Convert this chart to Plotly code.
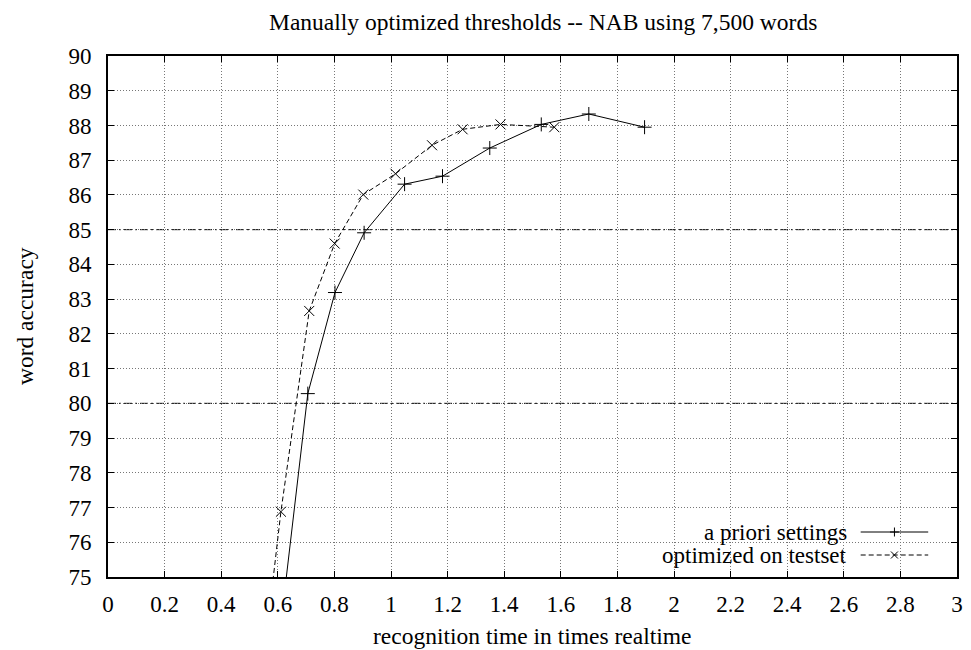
import plotly.graph_objects as go

# Recognition time (x realtime) vs. word accuracy (%)
apriori_time = [0.59, 0.706, 0.802, 0.905, 1.048, 1.182, 1.349, 1.531, 1.699, 1.896]
apriori_acc = [72.2, 80.28, 83.19, 84.91, 86.31, 86.54, 87.35, 88.03, 88.33, 87.95]

optimized_time = [0.55, 0.611, 0.711, 0.801, 0.902, 1.016, 1.145, 1.253, 1.387, 1.577]
optimized_acc = [72.6, 76.88, 82.66, 84.60, 86.01, 86.61, 87.43, 87.89, 88.03, 87.95]

x_ticks = [0, 0.2, 0.4, 0.6, 0.8, 1, 1.2, 1.4, 1.6, 1.8, 2, 2.2, 2.4, 2.6, 2.8, 3]
x_labels = ["0", "0.2", "0.4", "0.6", "0.8", "1", "1.2", "1.4", "1.6", "1.8",
            "2", "2.2", "2.4", "2.6", "2.8", "3"]
y_ticks = list(range(75, 91))
ref_levels = [80, 85]

series_names = ["a priori settings", "optimized on testset"]
title_text = "Manually optimized thresholds -- NAB using 7,500 words"
x_title = "recognition time in times realtime"
y_title = "word accuracy"

W, H = 971, 650
L, R, T, B = 108, 8, 56, 73
PW, PH = W - L - R, H - T - B
FONT = "Liberation Serif, Times New Roman, serif"
TICK_FS = 23
TEXT_FS = 23.5
KEY_FS = 23


def px(xp):
    return (xp - L) / PW


def py(yp):
    return (H - B - yp) / PH


fig = go.Figure()
fig.add_trace(go.Scatter(
    x=apriori_time, y=apriori_acc, mode="lines+markers", name=series_names[0],
    line=dict(color="black", width=1),
    marker=dict(symbol="cross-thin-open", size=10, color="black",
                line=dict(color="black", width=1)),
    showlegend=False,
))
fig.add_trace(go.Scatter(
    x=optimized_time, y=optimized_acc, mode="lines+markers", name=series_names[1],
    line=dict(color="black", width=1, dash="5px,3px"),
    marker=dict(symbol="x-thin-open", size=10, color="black",
                line=dict(color="black", width=1)),
    showlegend=False,
))

shapes = []
# reference levels: hide the dotted grid line, then draw dash-dot
for lv in ref_levels:
    shapes.append(dict(type="line", xref="paper", x0=0, x1=1, yref="y", y0=lv, y1=lv,
                       line=dict(color="white", width=2), layer="between"))
    shapes.append(dict(type="line", xref="paper", x0=0, x1=1, yref="y", y0=lv, y1=lv,
                       line=dict(color="black", width=1, dash="8px,3px,2px,3px"),
                       layer="between"))

# key box
shapes.append(dict(type="rect", xref="paper", yref="paper",
                   x0=px(556), x1=px(948), y0=py(568), y1=py(518),
                   fillcolor="white", line=dict(width=0), layer="between"))

key_rows = [532, 555]
sample_x0, sample_x1, sample_mid = 866, 934, 900
shapes.append(dict(type="line", xref="paper", yref="paper",
                   x0=px(sample_x0), x1=px(sample_x1), y0=py(key_rows[0]), y1=py(key_rows[0]),
                   line=dict(color="black", width=1)))
shapes.append(dict(type="line", xref="paper", yref="paper",
                   x0=px(sample_x0), x1=px(sample_x1), y0=py(key_rows[1]), y1=py(key_rows[1]),
                   line=dict(color="black", width=1, dash="5px,3px")))
m = 4.5
# "+" sample
shapes.append(dict(type="line", xref="paper", yref="paper",
                   x0=px(sample_mid - m), x1=px(sample_mid + m),
                   y0=py(key_rows[0]), y1=py(key_rows[0]), line=dict(color="black", width=1)))
shapes.append(dict(type="line", xref="paper", yref="paper",
                   x0=px(sample_mid), x1=px(sample_mid),
                   y0=py(key_rows[0] - m), y1=py(key_rows[0] + m), line=dict(color="black", width=1)))
# "x" sample
m2 = 3.5
shapes.append(dict(type="line", xref="paper", yref="paper",
                   x0=px(sample_mid - m2), x1=px(sample_mid + m2),
                   y0=py(key_rows[1] - m2), y1=py(key_rows[1] + m2), line=dict(color="black", width=1)))
shapes.append(dict(type="line", xref="paper", yref="paper",
                   x0=px(sample_mid - m2), x1=px(sample_mid + m2),
                   y0=py(key_rows[1] + m2), y1=py(key_rows[1] - m2), line=dict(color="black", width=1)))

annotations = [
    dict(text=title_text, xref="paper", yref="paper", x=px(546), y=py(22),
         xanchor="center", yanchor="middle", showarrow=False,
         font=dict(family=FONT, size=TEXT_FS, color="black")),
    dict(text=x_title, xref="paper", yref="paper", x=px(535), y=py(636),
         xanchor="center", yanchor="middle", showarrow=False,
         font=dict(family=FONT, size=TEXT_FS, color="black")),
    dict(text=y_title, xref="paper", yref="paper", x=px(24), y=0.5,
         xanchor="center", yanchor="middle", showarrow=False, textangle=-90,
         font=dict(family=FONT, size=TEXT_FS, color="black")),
]
for name, row in zip(series_names, key_rows):
    annotations.append(dict(text=name, xref="paper", yref="paper", x=px(854), y=py(row),
                            xanchor="right", yanchor="middle", showarrow=False,
                            font=dict(family=FONT, size=KEY_FS, color="black")))

axis_common = dict(
    showline=True, linecolor="black", linewidth=2, mirror="ticks",
    ticks="inside", ticklen=6, tickwidth=1, tickcolor="black",
    showgrid=True, gridcolor="#777777", gridwidth=1, griddash="1px,2px",
    zeroline=False, tickfont=dict(family=FONT, size=TICK_FS, color="black"),
)

fig.update_layout(
    width=W, height=H,
    margin=dict(l=L, r=R, t=T, b=B),
    paper_bgcolor="white", plot_bgcolor="white",
    xaxis=dict(range=[0, 3], tickvals=x_ticks, ticktext=x_labels,
               ticklabelstandoff=5, **axis_common),
    yaxis=dict(range=[75, 90], tickvals=y_ticks, ticklabelstandoff=10, **axis_common),
    shapes=shapes, annotations=annotations, showlegend=False,
)

fig.write_html("out.html")
